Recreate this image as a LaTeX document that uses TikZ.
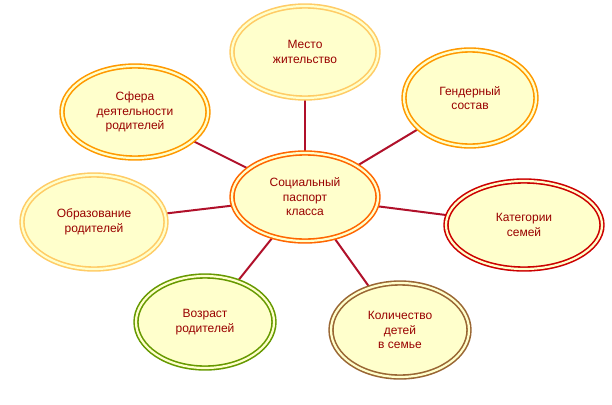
\documentclass[tikz,border=0pt]{standalone}
\usepackage{fontspec}
\setmainfont{Liberation Sans}
\usetikzlibrary{shapes.geometric,backgrounds}
\definecolor{fillc}{HTML}{FFFFCC}
\definecolor{txt}{HTML}{990000}
\definecolor{lnk}{HTML}{B0102A}
\definecolor{cOr}{HTML}{FF9900}
\definecolor{cLt}{HTML}{FFCC66}
\definecolor{cCen}{HTML}{FF6600}
\definecolor{cRed}{HTML}{CC0000}
\definecolor{cGr}{HTML}{669900}
\definecolor{cBr}{HTML}{996633}
\tikzset{
 bub/.style={ellipse,fill=fillc,draw=#1,line width=1.6pt,double=fillc,double distance=2.2pt,
   inner sep=0pt,text=txt,font=\fontsize{12}{14.5}\selectfont,align=center},
 lnkline/.style={draw=lnk,line width=2pt}
}
\begin{document}
\begin{tikzpicture}[x=1pt,y=-1pt]
\useasboundingbox (0,0) rectangle (612,404);
\node[bub=cCen,minimum width=146,minimum height=88] (c) at (305,197) {Социальный\\паспорт\\класса};
\node[bub=cLt,minimum width=146,minimum height=92] (t) at (305,52) {Место\\жительство};
\node[bub=cOr,minimum width=146,minimum height=92] (tl) at (135,112) {Сфера\\деятельности\\родителей};
\node[bub=cOr,minimum width=132,minimum height=96] (tr) at (470,98) {Гендерный\\состав};
\node[bub=cLt,minimum width=144,minimum height=94] (l) at (94,222) {Образование\\родителей};
\node[bub=cRed,minimum width=156,minimum height=88] (r) at (524,225) {Категории\\семей};
\node[bub=cGr,minimum width=138,minimum height=92] (bl) at (205,322) {Возраст\\родителей};
\node[bub=cBr,minimum width=138,minimum height=94] (br) at (400,330) {Количество\\детей\\в семье};
\begin{scope}[on background layer]
\foreach \n in {t,tl,tr,l,r,bl,br} \draw[lnkline] (c.center) -- (\n.center);
\end{scope}
\end{tikzpicture}
\end{document}
